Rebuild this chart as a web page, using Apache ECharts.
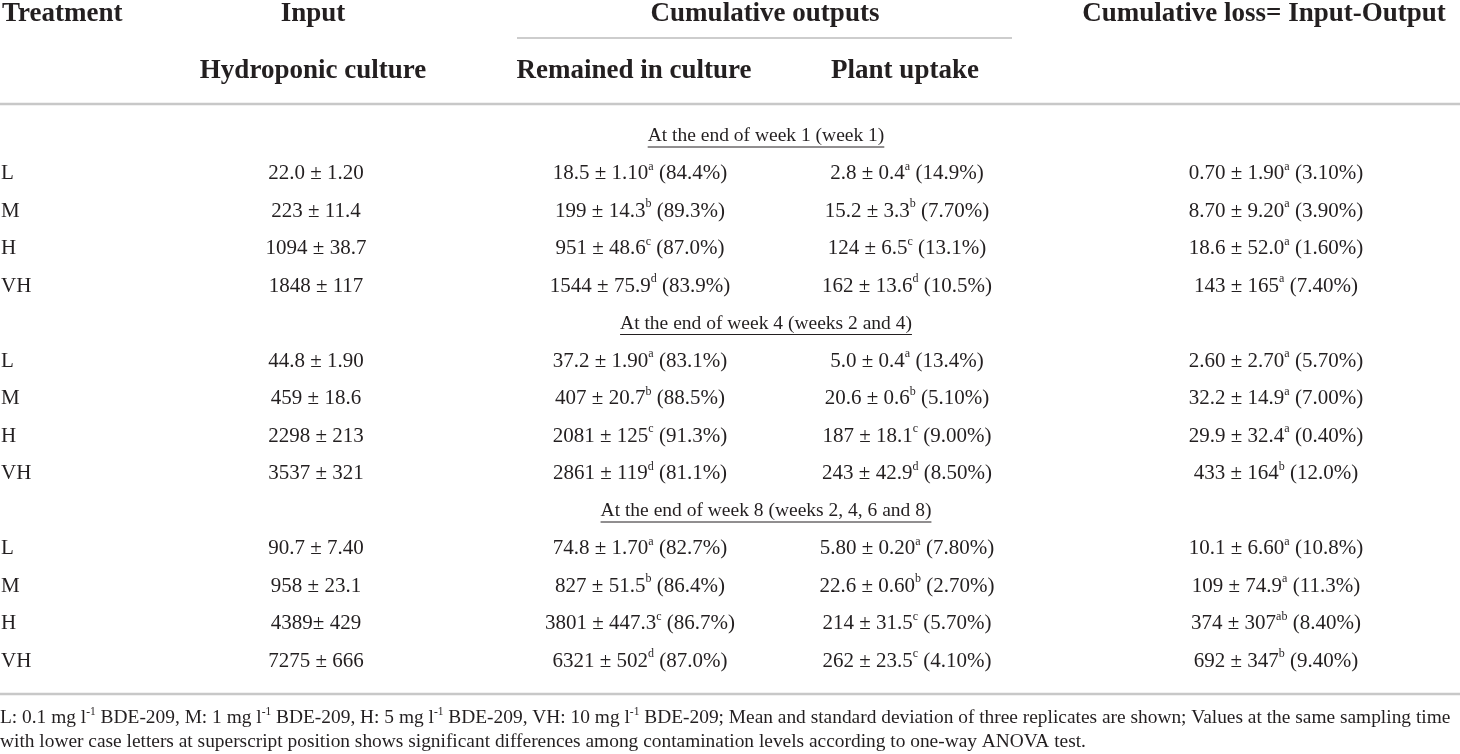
<!DOCTYPE html>
<html lang="en">
<head>
<meta charset="UTF-8">
<title>BDE-209 mass balance</title>
<style>html,body{margin:0;padding:0;background:#fff}#main{width:1460px;height:754px}</style>
</head>
<body>
<div id="main"></div>
<script src="https://cdn.jsdelivr.net/npm/echarts@6/dist/echarts.min.js"></script>
<script>
// table content, "^x" marks a superscript
var treatments = ['L', 'M', 'H', 'VH'];
var sectionTitles = [
    'At the end of week 1 (week 1)',
    'At the end of week 4 (weeks 2 and 4)',
    'At the end of week 8 (weeks 2, 4, 6 and 8)'
];
var inputVals = [
    '22.0 ± 1.20', '223 ± 11.4', '1094 ± 38.7', '1848 ± 117',
    '44.8 ± 1.90', '459 ± 18.6', '2298 ± 213', '3537 ± 321',
    '90.7 ± 7.40', '958 ± 23.1', '4389± 429', '7275 ± 666'
];
var remainedVals = [
    '18.5 ± 1.10^a (84.4%)', '199 ± 14.3^b (89.3%)', '951 ± 48.6^c (87.0%)', '1544 ± 75.9^d (83.9%)',
    '37.2 ± 1.90^a (83.1%)', '407 ± 20.7^b (88.5%)', '2081 ± 125^c (91.3%)', '2861 ± 119^d (81.1%)',
    '74.8 ± 1.70^a (82.7%)', '827 ± 51.5^b (86.4%)', '3801 ± 447.3^c (86.7%)', '6321 ± 502^d (87.0%)'
];
var uptakeVals = [
    '2.8 ± 0.4^a (14.9%)', '15.2 ± 3.3^b (7.70%)', '124 ± 6.5^c (13.1%)', '162 ± 13.6^d (10.5%)',
    '5.0 ± 0.4^a (13.4%)', '20.6 ± 0.6^b (5.10%)', '187 ± 18.1^c (9.00%)', '243 ± 42.9^d (8.50%)',
    '5.80 ± 0.20^a (7.80%)', '22.6 ± 0.60^b (2.70%)', '214 ± 31.5^c (5.70%)', '262 ± 23.5^c (4.10%)'
];
var lossVals = [
    '0.70 ± 1.90^a (3.10%)', '8.70 ± 9.20^a (3.90%)', '18.6 ± 52.0^a (1.60%)', '143 ± 165^a (7.40%)',
    '2.60 ± 2.70^a (5.70%)', '32.2 ± 14.9^a (7.00%)', '29.9 ± 32.4^a (0.40%)', '433 ± 164^b (12.0%)',
    '10.1 ± 6.60^a (10.8%)', '109 ± 74.9^a (11.3%)', '374 ± 307^ab (8.40%)', '692 ± 347^b (9.40%)'
];
var footnote1 = 'L: 0.1 mg l^-1 BDE-209, M: 1 mg l^-1 BDE-209, H: 5 mg l^-1 BDE-209, VH: 10 mg l^-1 BDE-209; Mean and standard deviation of three replicates are shown; Values at the same sampling time';
var footnote2 = 'with lower case letters at superscript position shows significant differences among contamination levels according to one-way ANOVA test.';

// layout
var FONT = '"Liberation Serif", "Times New Roman", serif';
var INK = '#231f20';
var colX = [1, 316, 640, 907, 1276];   // x of each column (value axis runs 0..1460)
var SECTION_X = 766;

var measureCtx = document.createElement('canvas').getContext('2d');
function textWidth(str, size) {
    measureCtx.font = size + 'px ' + FONT;
    return measureCtx.measureText(str).width;
}
function toRich(str) {
    return str.split(/\^([\w-]+)/).map(function (part, i) {
        if (!part) return '';
        return i % 2 ? '{s|' + part + '}' : '{n|' + part + '}';
    }).join('');
}
function richStyles(size, supSize) {
    return {
        n: {fontFamily: FONT, fontSize: size, lineHeight: size + 5, fill: INK},
        s: {fontFamily: FONT, fontSize: supSize, lineHeight: supSize + 1, verticalAlign: 'top', fill: INK}
    };
}

// cells: column, row, text, kind
var cells = [];
var rowKeys = [];
for (var s = 0; s < 3; s++) {
    rowKeys.push('sec' + s);
    cells.push({col: -1, row: s * 5, text: sectionTitles[s], kind: 'section'});
    for (var k = 0; k < 4; k++) {
        var i = s * 4 + k, r = s * 5 + 1 + k;
        rowKeys.push(treatments[k] + s);
        cells.push({col: 0, row: r, text: treatments[k], kind: 'label'});
        cells.push({col: 1, row: r, text: inputVals[i], kind: 'value'});
        cells.push({col: 2, row: r, text: remainedVals[i], kind: 'value'});
        cells.push({col: 3, row: r, text: uptakeVals[i], kind: 'value'});
        cells.push({col: 4, row: r, text: lossVals[i], kind: 'value'});
    }
}

function renderItem(params, api) {
    var c = cells[params.dataIndex];
    var p = api.coord([api.value(0), api.value(1)]);
    if (c.kind === 'section') {
        var w = textWidth(c.text, 19.5);
        return {
            type: 'group',
            children: [
                {type: 'text', x: p[0], y: p[1], style: {text: c.text, align: 'center', verticalAlign: 'middle',
                    fontFamily: FONT, fontSize: 19.5, fill: INK}},
                {type: 'line', shape: {x1: p[0] - w / 2, y1: p[1] + 11, x2: p[0] + w / 2, y2: p[1] + 11},
                    style: {stroke: INK, lineWidth: 1}}
            ]
        };
    }
    return {
        type: 'text', x: p[0], y: p[1],
        style: {
            text: toRich(c.text), rich: richStyles(21, 12),
            align: c.kind === 'label' ? 'left' : 'center', verticalAlign: 'middle'
        }
    };
}

function header(text, x, y, align) {
    return {type: 'text', x: x, y: y, style: {text: text, align: align || 'center', verticalAlign: 'middle',
        fontFamily: FONT, fontSize: 27, fontWeight: 'bold', fill: INK}};
}
function rule(x1, x2, y, w, color) {
    return {type: 'line', shape: {x1: x1, y1: y, x2: x2, y2: y}, style: {stroke: color, lineWidth: w}};
}

var myChart = echarts.init(document.getElementById('main'));
var option = {
    backgroundColor: '#fff',
    animation: false,
    grid: {left: 0, right: 0, top: 117.25, bottom: 74.25},
    xAxis: {type: 'value', min: 0, max: 1460, show: false},
    yAxis: {type: 'category', data: rowKeys, inverse: true, show: false},
    graphic: [
        header('Treatment', 2, 14, 'left'),
        header('Input', 313, 14),
        header('Cumulative outputs', 765, 14),
        header('Cumulative loss= Input-Output', 1264, 14),
        header('Hydroponic culture', 313, 71),
        header('Remained in culture', 634, 71),
        header('Plant uptake', 905, 71),
        rule(517, 1012, 38, 1.5, '#bdbdbd'),
        rule(0, 1460, 104, 2.5, '#c8c8c8'),
        rule(0, 1460, 694, 2.5, '#c8c8c8'),
        {type: 'text', x: 0, y: 718, style: {text: toRich(footnote1), rich: richStyles(19.4, 11.5),
            align: 'left', verticalAlign: 'middle'}},
        {type: 'text', x: 0, y: 742, style: {text: toRich(footnote2), rich: richStyles(19.4, 11.5),
            align: 'left', verticalAlign: 'middle'}}
    ],
    series: [{
        type: 'custom',
        renderItem: renderItem,
        data: cells.map(function (c) { return [c.kind === 'section' ? SECTION_X : colX[c.col], c.row]; })
    }]
};
myChart.setOption(option);
</script>
</body>
</html>
